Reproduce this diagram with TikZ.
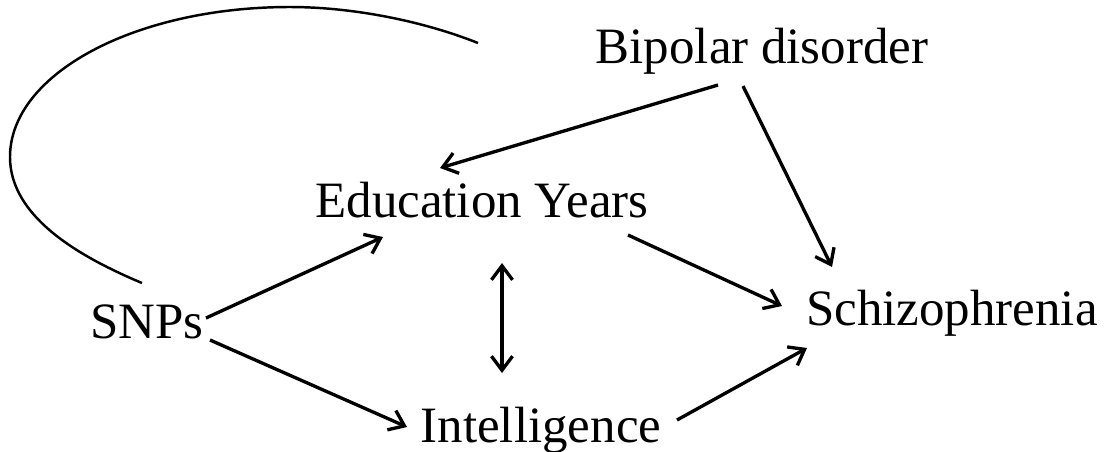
\documentclass[tikz,border=0pt]{standalone}
\usepackage{fontspec}
\setmainfont{Liberation Serif}
\usetikzlibrary{calc,arrows.meta}

\begin{document}
\begin{tikzpicture}[x=0.02cm,y=-0.02cm,
  >={Straight Barb[length=8pt,width=12pt]},
  lbl/.style={anchor=base,inner sep=0pt,font=\fontsize{29}{35}\selectfont},
  arr/.style={draw,line width=1.9pt,->}]
\useasboundingbox (0,0) rectangle (1109,451);

\node[lbl] (bip) at (762,63) {Bipolar disorder};
\node[lbl] (edu) at (482,217) {Education Years};
\node[lbl] (snp) at (147,338) {SNPs};
\node[lbl] (int) at (541,442) {Intelligence};
\node[lbl] (sch) at (952,325) {Schizophrenia};

\path[arr] ($(bip.base)+(-44,22)$) -- ($(edu.base)+(-42,-49)$);
\path[arr] ($(bip.base)+(-19,23)$) -- ($(sch.base)+(-120,-58)$);
\path[arr] ($(edu.base)+(146,18)$) -- ($(sch.base)+(-170,-19)$);
\path[arr] ($(int.base)+(136,-22)$) -- ($(sch.base)+(-145,23)$);
\path[arr] ($(snp.base)+(59,-20)$) -- ($(edu.base)+(-99,20)$);
\path[arr] ($(snp.base)+(63,2)$) -- ($(int.base)+(-134,-15)$);
\path[arr,<->] ($(edu.base)+(20,46)$) -- ($(int.base)+(-39,-69)$);

\draw[line width=1.4pt] ($(bip.base)+(-284,-20)$) .. controls (420,20) and (350,7) .. (290,7)
  .. controls (135,7) and (10,74) .. (10,157)
  .. controls (10,215) and (75,255) .. ($(snp.base)+(-5,-55)$);
\end{tikzpicture}
\end{document}
